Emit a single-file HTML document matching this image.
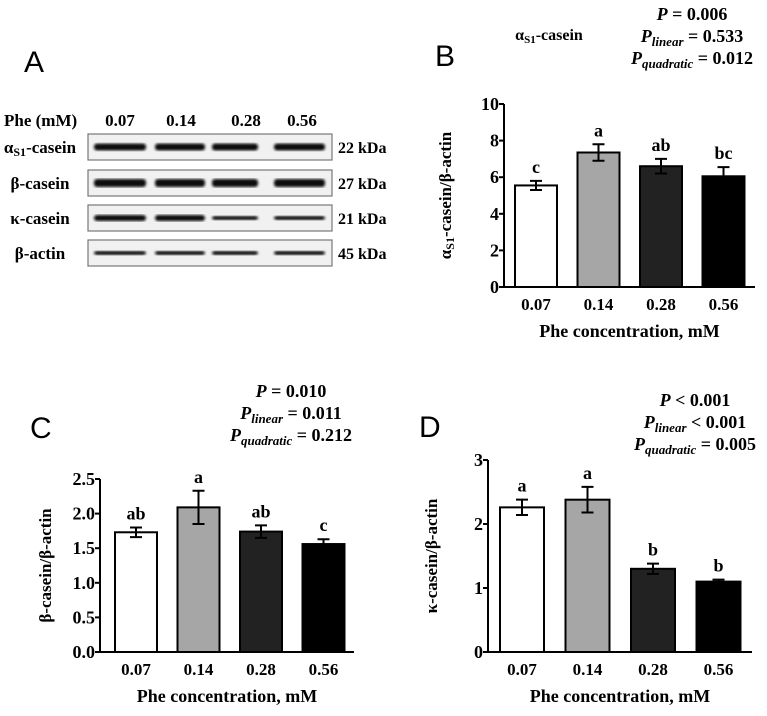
<!DOCTYPE html>
<html><head><meta charset="utf-8"><style>
html,body{margin:0;padding:0;background:#fff;}
svg{display:block;font-family:"Liberation Serif",serif;font-weight:bold;}
.ltr{font-family:"Liberation Sans",sans-serif;font-weight:normal;font-size:30px;}
</style></head><body>
<svg id="fig" width="767" height="716" viewBox="0 0 767 716">
<defs>
<filter id="blur1"><feGaussianBlur stdDeviation="1.3"/></filter>
</defs>
<g>
<text class="ltr" x="24" y="72">A</text>
<text x="4" y="126" font-size="17">Phe (mM)</text>
<text x="120" y="126" font-size="17" text-anchor="middle">0.07</text>
<text x="181" y="126" font-size="17" text-anchor="middle">0.14</text>
<text x="246" y="126" font-size="17" text-anchor="middle">0.28</text>
<text x="302" y="126" font-size="17" text-anchor="middle">0.56</text>
<g id="blots"></g>
</g>
<g id="charts"></g>
</svg>
<script>
const NS='http://www.w3.org/2000/svg';
const svg=document.getElementById('fig');
function mk(tag,attrs,parent,text){const e=document.createElementNS(NS,tag);for(const k in attrs)e.setAttribute(k,attrs[k]);if(text!==undefined)e.textContent=text;(parent||svg).appendChild(e);return e;}

const blotRows=['αS1-casein','β-casein','κ-casein','β-actin'];
const blotKda=['22 kDa','27 kDa','21 kDa','45 kDa'];
const blotTops=[134,170,205,240];
const blots=document.getElementById('blots');
blotRows.forEach((r,i)=>{
  const y=blotTops[i];
  const lab=mk('text',{x:40,y:y+19,'font-size':17,'text-anchor':'middle'},blots);
  
  
  if(i===0){lab.textContent='α';mk('tspan',{'font-size':12,dy:3},lab,'S1');mk('tspan',{dy:-3},lab,'-casein');}
  else lab.textContent=r;
  const box=mk('rect',{x:88,y:y,width:244,height:26,fill:'#f1f1f1',stroke:'#777','stroke-width':1.2},blots);
  
  
  const th=[7,8,6,4][i];
  [[94,146],[155,205],[212,258],[274,325]].forEach((b,j)=>{
    let t=th; if(i===2&&j>=2)t=4;
    const band=mk('rect',{x:b[0],y:y+13-t/2,width:b[1]-b[0],height:t,rx:3,fill:'#111',filter:'url(#blur1)'},blots);
    
    
  });
  const kd=mk('text',{x:338,y:y+19,'font-size':16},blots,blotKda[i]);
  
  
});

const categories=['0.07','0.14','0.28','0.56'];
const barColors=['#ffffff','#a6a6a6','#222222','#000000'];
const bMeans=[5.55,7.35,6.6,6.05];
const bErrs=[0.25,0.45,0.4,0.5];
const bLetters=['c','a','ab','bc'];
const bTicks=[0,2,4,6,8,10];
const cMeans=[1.73,2.09,1.74,1.56];
const cErrs=[0.07,0.24,0.09,0.07];
const cLetters=['ab','a','ab','c'];
const cTicks=[0,0.5,1.0,1.5,2.0,2.5];
const dMeans=[2.26,2.38,1.30,1.10];
const dErrs=[0.12,0.2,0.08,0.03];
const dLetters=['a','a','b','b'];
const dTicks=[0,1,2,3];

function chart(cfg){
  const g=mk('g',{});
  
  
  const ymax=cfg.ticks[cfg.ticks.length-1];
  const yS=v=>cfg.y0-(v/ymax)*(cfg.y0-cfg.yTop);
  const step=cfg.step, bw=cfg.bw;
  const xS=i=>cfg.x1+i*step;
  cfg.means.forEach((m,i)=>{
    const x=xS(i);
    const r=mk('rect',{x:x,y:yS(m),width:bw,height:cfg.y0-yS(m),fill:barColors[i],stroke:'#000','stroke-width':2},g);
    
    
    const cx=x+bw/2,hi=yS(m+cfg.errs[i]),lo=yS(m-cfg.errs[i]);
    const e=mk('path',{d:`M${cx},${hi}V${lo}M${cx-6},${hi}H${cx+6}M${cx-6},${lo}H${cx+6}`,stroke:'#000','stroke-width':2,fill:'none'},g);
    
    
    const lt=mk('text',{x:cx,y:hi-8,'font-size':18,'text-anchor':'middle'},g,cfg.letters[i]);
    
    
    const xl=mk('text',{x:cx,y:cfg.y0+23,'font-size':17,'text-anchor':'middle'},g,categories[i]);
    
    
  });
  const ax=mk('path',{d:`M${cfg.ax},${cfg.yTop}V${cfg.y0}H${cfg.axEnd}`,stroke:'#000','stroke-width':2,fill:'none'},g);
  
  
  cfg.ticks.forEach(t=>{
    const y=yS(t);
    const tk=mk('line',{x1:cfg.ax-5,x2:cfg.ax,y1:y,y2:y,stroke:'#000','stroke-width':2},g);
    
    
    const tl=mk('text',{x:cfg.ax-5,y:y+6,'font-size':18,'text-anchor':'end'},g,cfg.fmt(t));
    
    
  });
  const xt=mk('text',{x:(cfg.ax+cfg.axEnd)/2,y:cfg.y0+50,'font-size':18,'text-anchor':'middle'},g,'Phe concentration, mM');
  
  
  const yt=mk('text',{x:0,y:0,'font-size':17,'text-anchor':'middle',transform:`translate(${cfg.ytX},${(cfg.y0+cfg.yTop)/2}) rotate(-90)`},g);
  
  
  if(cfg.sub){yt.textContent='α';mk('tspan',{'font-size':12,dy:3},yt,'S1');mk('tspan',{dy:-3},yt,'-casein/β-actin');}
  else yt.textContent=cfg.ylab;
  const L=mk('text',{x:cfg.L[0],y:cfg.L[1],class:'ltr'},g,cfg.letter);
  
  
  const ti=mk('text',{x:cfg.T[0],y:cfg.T[1],'font-size':16,'text-anchor':'middle'},g);
  
  
  if(cfg.sub){ti.textContent='α';mk('tspan',{'font-size':11,dy:3},ti,'S1');mk('tspan',{dy:-3},ti,'-casein');}
  else ti.textContent=cfg.title;
  const px=cfg.P[0],py=cfg.P[1];
  const lines=[['',cfg.p[0]],['linear',cfg.p[1]],['quadratic',cfg.p[2]]];
  lines.forEach((l,k)=>{
    const t=mk('text',{x:px,y:py+k*22,'font-size':18,'text-anchor':'middle'},g);
    
    
    mk('tspan',{'font-style':'italic'},t,'P');
    if(l[0]){mk('tspan',{'font-style':'italic','font-size':13,dy:4},t,l[0]);mk('tspan',{dy:-4},t,' '+l[1]);}
    else mk('tspan',{},t,' '+l[1]);
  });
}

chart({name:'chart-b-as1-casein',means:bMeans,errs:bErrs,letters:bLetters,ticks:bTicks,fmt:t=>String(t),
  y0:287,yTop:104,ax:504,axEnd:755,x1:515,step:62.5,bw:42,ytX:451,sub:true,
  letter:'B',L:[435,66],T:[549,40],P:[692,20],p:['= 0.006','= 0.533','= 0.012']});
chart({name:'chart-c-b-casein',means:cMeans,errs:cErrs,letters:cLetters,ticks:cTicks,fmt:t=>t.toFixed(1),
  y0:652,yTop:479,ax:100,axEnd:354,x1:115,step:62.5,bw:42,ytX:51,ylab:'β-casein/β-actin',
  letter:'C',L:[30,438],T:[154,419],P:[291,397],p:['= 0.010','= 0.011','= 0.212']});
chart({name:'chart-d-k-casein',means:dMeans,errs:dErrs,letters:dLetters,ticks:dTicks,fmt:t=>String(t),
  y0:652,yTop:460,ax:488,axEnd:752,x1:500,step:65.5,bw:44,ytX:437,ylab:'κ-casein/β-actin',
  letter:'D',L:[419,437],T:[549,426],P:[695,406],p:['< 0.001','< 0.001','= 0.005']});
</script>
</body></html>
